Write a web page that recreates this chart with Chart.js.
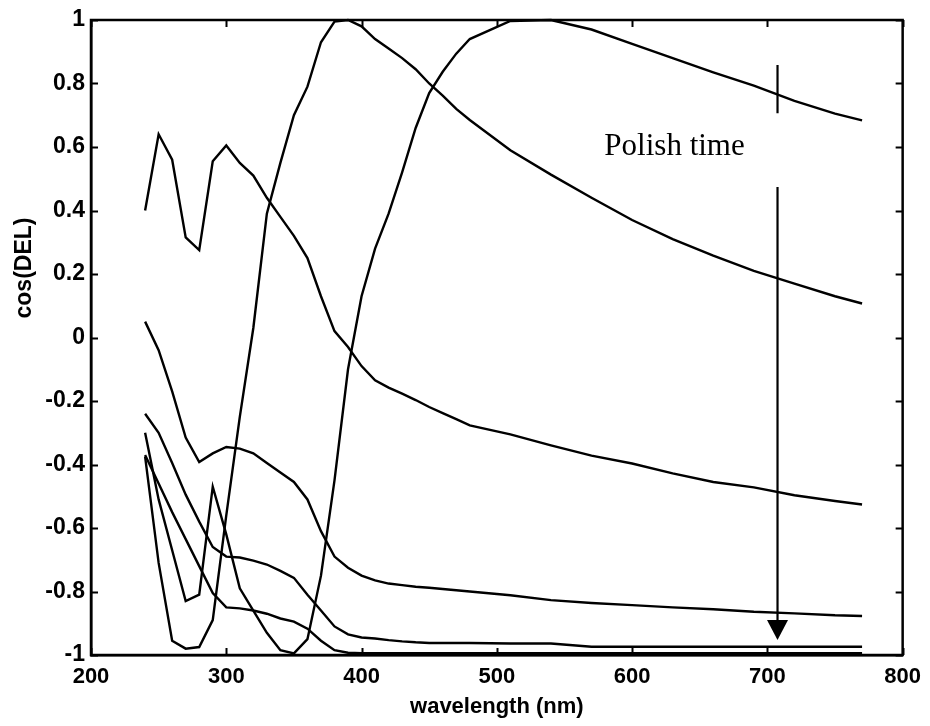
<!DOCTYPE html>
<html>
<head>
<meta charset="utf-8">
<script src="https://cdn.jsdelivr.net/npm/chart.js@4.4.1/dist/chart.umd.min.js"></script>
<style>
  html, body { margin: 0; padding: 0; background: #fff; }
  #wrap { width: 930px; height: 726px; }
</style>
</head>
<body>
<div id="wrap"><canvas id="c" width="930" height="726"></canvas></div>
<script>
// ---- data ----
const wavelength = [240,250,260,270,280,290,300,310,320,330,340,350,360,370,380,390,400,410,420,430,440,450,460,470,480,510,540,570,600,630,660,690,720,750,770];

const curveA = [0.40,0.64,0.56,0.315,0.275,0.555,0.605,0.55,0.51,0.44,0.38,0.32,0.25,0.13,0.02,-0.03,-0.09,-0.135,-0.158,-0.177,-0.197,-0.219,-0.238,-0.257,-0.277,-0.305,-0.34,-0.372,-0.397,-0.428,-0.455,-0.472,-0.497,-0.515,-0.526];
const curveB = [-0.375,-0.71,-0.955,-0.98,-0.975,-0.89,-0.56,-0.25,0.03,0.39,0.55,0.70,0.79,0.93,0.995,1.0,0.98,0.94,0.91,0.88,0.845,0.80,0.762,0.72,0.685,0.59,0.513,0.44,0.37,0.31,0.258,0.21,0.17,0.13,0.107];
const curveC = [0.05,-0.04,-0.17,-0.315,-0.392,-0.365,-0.345,-0.35,-0.365,-0.395,-0.425,-0.455,-0.51,-0.61,-0.69,-0.725,-0.75,-0.765,-0.775,-0.78,-0.785,-0.788,-0.792,-0.796,-0.80,-0.812,-0.827,-0.836,-0.843,-0.85,-0.856,-0.864,-0.869,-0.875,-0.877];
const curveD = [-0.24,-0.30,-0.395,-0.495,-0.58,-0.66,-0.69,-0.693,-0.703,-0.715,-0.735,-0.757,-0.81,-0.86,-0.91,-0.935,-0.945,-0.948,-0.953,-0.957,-0.96,-0.962,-0.962,-0.962,-0.962,-0.964,-0.964,-0.974,-0.974,-0.974,-0.974,-0.974,-0.974,-0.974,-0.974];
const curveE = [-0.30,-0.51,-0.67,-0.83,-0.81,-0.47,-0.62,-0.79,-0.86,-0.93,-0.985,-0.995,-0.95,-0.75,-0.45,-0.10,0.13,0.28,0.39,0.52,0.66,0.77,0.837,0.894,0.94,0.997,1.0,0.97,0.925,0.88,0.835,0.793,0.745,0.705,0.684];
const curveF = [-0.37,-0.46,-0.55,-0.635,-0.72,-0.805,-0.85,-0.853,-0.86,-0.87,-0.885,-0.895,-0.917,-0.955,-0.985,-0.993,-0.994,-0.994,-0.994,-0.994,-0.994,-0.994,-0.994,-0.994,-0.994,-0.994,-0.994,-0.994,-0.994,-0.994,-0.994,-0.994,-0.994,-0.994,-0.994];

const xTickValues = [200,300,400,500,600,700,800];
const xTickLabels = ['200','300','400','500','600','700','800'];
const yTickValues = [1,0.8,0.6,0.4,0.2,0,-0.2,-0.4,-0.6,-0.8,-1];
const yTickLabels = ['1','0.8','0.6','0.4','0.2','0','-0.2','-0.4','-0.6','-0.8','-1'];

const xTitle = 'wavelength (nm)';
const yTitle = 'cos(DEL)';
const annotationText = 'Polish time';
// annotation anchor positions in data units
const arrowX = 707.5;
const arrowTopSegment = [0.858, 0.706];
const arrowLowerSegment = [0.474, -0.953];
const textAnchor = [579.5, 0.574];

const series = [curveA, curveB, curveC, curveD, curveE, curveF];

const datasets = series.map((ys, i) => ({
  label: 'curve' + i,
  data: wavelength.map((w, k) => ({ x: w, y: ys[k] })),
  showLine: true,
  borderColor: '#000',
  borderWidth: 2.4,
  pointRadius: 0,
  pointHoverRadius: 0,
  tension: 0,
  fill: false,
  clip: false
}));

const xTickFont = { family: "'Liberation Sans', Arial, sans-serif", size: 22, weight: 'bold' };
const yTickFont = { family: "'Liberation Sans', Arial, sans-serif", size: 23, weight: 'bold' };

const decor = {
  id: 'decor',
  afterDraw(chart) {
    const ctx = chart.ctx;
    const xs = chart.scales.x, ys = chart.scales.y;
    const a = chart.chartArea;
    ctx.save();
    // frame
    ctx.strokeStyle = '#000';
    ctx.lineWidth = 2.5;
    ctx.strokeRect(a.left, a.top, a.right - a.left, a.bottom - a.top);
    // inward ticks
    const tl = 7;
    ctx.beginPath();
    xTickValues.forEach(v => {
      const px = Math.round(xs.getPixelForValue(v)) + 0.5;
      ctx.moveTo(px, a.bottom); ctx.lineTo(px, a.bottom - tl);
      ctx.moveTo(px, a.top); ctx.lineTo(px, a.top + tl);
    });
    yTickValues.forEach(v => {
      const py = Math.round(ys.getPixelForValue(v)) + 0.5;
      ctx.moveTo(a.left, py); ctx.lineTo(a.left + tl, py);
      ctx.moveTo(a.right, py); ctx.lineTo(a.right - tl, py);
    });
    ctx.lineWidth = 2;
    ctx.stroke();

    // arrow
    const ax = xs.getPixelForValue(arrowX);
    ctx.lineWidth = 2.2;
    ctx.beginPath();
    ctx.moveTo(ax, ys.getPixelForValue(arrowTopSegment[0]));
    ctx.lineTo(ax, ys.getPixelForValue(arrowTopSegment[1]));
    const tipY = ys.getPixelForValue(arrowLowerSegment[1]);
    ctx.moveTo(ax, ys.getPixelForValue(arrowLowerSegment[0]));
    ctx.lineTo(ax, tipY - 18);
    ctx.stroke();
    ctx.beginPath();
    ctx.moveTo(ax - 10.5, tipY - 20);
    ctx.lineTo(ax + 10.5, tipY - 20);
    ctx.lineTo(ax, tipY);
    ctx.closePath();
    ctx.fillStyle = '#000';
    ctx.fill();

    // annotation text
    ctx.font = "31px 'Liberation Serif', 'Times New Roman', serif";
    ctx.textAlign = 'left';
    ctx.textBaseline = 'alphabetic';
    ctx.fillText(annotationText, xs.getPixelForValue(textAnchor[0]), ys.getPixelForValue(textAnchor[1]));

    // y axis title
    ctx.save();
    ctx.translate(25, 268);
    ctx.rotate(-Math.PI / 2);
    ctx.font = "bold 23px 'Liberation Sans', Arial, sans-serif";
    ctx.textAlign = 'center';
    ctx.textBaseline = 'middle';
    ctx.fillText(yTitle, 0, 0);
    ctx.restore();
    ctx.restore();
  }
};

new Chart(document.getElementById('c'), {
  type: 'scatter',
  data: { datasets },
  options: {
    responsive: false,
    animation: false,
    devicePixelRatio: 1,
    layout: { padding: { left: 0, right: 26, top: 20, bottom: 0 } },
    plugins: { legend: { display: false }, tooltip: { enabled: false } },
    scales: {
      x: {
        type: 'linear',
        min: 200, max: 800,
        afterBuildTicks: s => { s.ticks = xTickValues.map(v => ({ value: v })); },
        afterFit: s => { s.height = 71; },
        ticks: {
          color: '#000', font: xTickFont, padding: 9, maxRotation: 0, autoSkip: false,
          callback: (v) => xTickLabels[xTickValues.indexOf(v)]
        },
        grid: { display: false, drawTicks: false },
        border: { display: true, color: '#000', width: 2.5 },
        title: { display: true, text: xTitle, color: '#000', font: xTickFont, padding: { top: 0, bottom: 6 } }
      },
      y: {
        type: 'linear',
        min: -1, max: 1,
        afterBuildTicks: s => { s.ticks = yTickValues.map(v => ({ value: v })); },
        afterFit: s => { s.width = 91; },
        ticks: {
          color: '#000', font: yTickFont, padding: 6, autoSkip: false,
          callback: (v) => yTickLabels[yTickValues.indexOf(v)]
        },
        grid: { display: false, drawTicks: false },
        border: { display: true, color: '#000', width: 2.5 }
      }
    }
  },
  plugins: [decor]
});
</script>
</body>
</html>
